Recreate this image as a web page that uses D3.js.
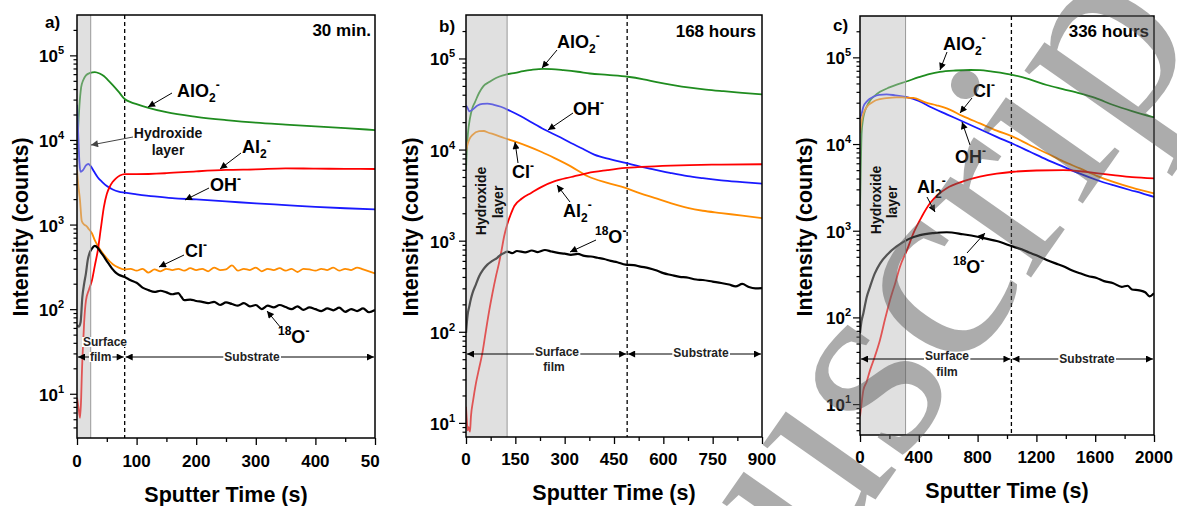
<!DOCTYPE html>
<html>
<head>
<meta charset="utf-8">
<script src="https://cdn.jsdelivr.net/npm/d3@7"></script>
<style>
  body { margin: 0; background: #fff; }
  svg { display: block; font-family: "Liberation Sans", Arial, sans-serif; font-weight: bold; }
</style>
</head>
<body>
<script>
// ---- values: [sputter time (s), intensity (counts)] ----
const a_AlO2 = [[0,6000],[2,14000],[4,25000],[7,42000],[10,50000],[15,58000],[22,62000],[30,63500],[38,61000],[45,57000],[52,51000],[60,44500],[70,37000],[80,30500],[90,28000],[100,26500],[120,24000],[150,21300],[200,18800],[250,17200],[300,16000],[350,15200],[400,14500],[450,13800],[500,13100]];
const a_OH = [[0,26000],[2,12000],[4,5500],[6,4200],[10,4400],[15,5000],[19,5200],[23,4900],[28,4300],[35,3600],[42,3200],[50,2850],[60,2600],[70,2450],[80,2380],[100,2280],[130,2150],[160,2050],[200,1980],[250,1880],[300,1780],[350,1700],[400,1620],[450,1560],[500,1510]];
const a_Cl = [[0,4400],[2,3000],[5,1950],[8,1100],[12,1000],[16,960],[20,880],[25,790],[30,650],[35,560],[42,470],[50,400],[60,340],[70,310],[80,295],[90,300],[100,285],[110,300],[120,270],[130,295],[140,280],[150,300],[160,290],[170,300],[180,285],[190,305],[200,290],[210,300],[220,280],[230,310],[240,290],[250,295],[260,330],[270,285],[280,300],[290,290],[300,310],[310,280],[320,300],[330,290],[340,305],[350,285],[360,300],[370,275],[380,300],[390,295],[400,285],[410,300],[420,290],[430,310],[440,285],[450,300],[460,290],[470,310],[480,295],[490,280],[500,265]];
const a_Al2 = [[0,9],[3,6.5],[5,5.2],[7,9],[8,16],[10,36],[12,70],[15,126],[20,170],[25,218],[30,330],[35,500],[40,900],[45,1600],[50,2300],[55,2800],[60,3200],[65,3500],[72,3800],[80,3950],[100,3950],[150,4050],[200,4250],[250,4420],[300,4500],[350,4620],[400,4580],[450,4560],[500,4540]];
const a_O18 = [[0,65],[3,62],[6,70],[9,140],[12,200],[15,265],[18,380],[21,460],[25,520],[30,560],[35,530],[40,470],[45,420],[50,370],[55,330],[60,295],[65,270],[70,255],[80,240],[90,220],[100,205],[110,180],[120,168],[130,160],[140,165],[150,158],[160,150],[170,155],[175,140],[180,128],[190,130],[200,125],[210,122],[220,118],[230,122],[240,112],[250,120],[260,115],[270,110],[280,118],[290,108],[300,112],[310,100],[320,110],[330,105],[340,112],[350,106],[360,100],[370,108],[380,98],[390,105],[400,100],[410,95],[420,102],[430,97],[440,104],[450,93],[460,100],[470,95],[480,102],[490,92],[500,98]];

const b_AlO2 = [[0,6000],[3,11000],[6,15200],[12,22000],[20,29000],[27,33000],[40,42000],[53,49800],[70,55000],[83,58900],[100,63000],[124,66800],[150,69500],[174,72500],[200,75000],[235,77000],[260,76500],[296,74500],[340,71500],[377,68400],[430,66000],[492,63000],[540,59000],[580,55000],[630,51000],[681,47800],[730,45500],[783,43700],[840,42000],[900,40300]];
const b_OH = [[0,30500],[5,28500],[10,26300],[20,27500],[35,30500],[50,31800],[65,32000],[85,31000],[106,29500],[135,26500],[167,23200],[200,19800],[238,16600],[280,14000],[319,11800],[355,10200],[390,8800],[440,7800],[485,7130],[530,6500],[573,6030],[620,5550],[674,5100],[720,4850],[776,4600],[840,4400],[900,4230]];
const b_Cl = [[0,9600],[5,11500],[10,12900],[20,14500],[40,15900],[55,16000],[65,15500],[90,14500],[116,13400],[150,12200],[187,10900],[230,9400],[268,8100],[320,6500],[370,5100],[430,4300],[485,3790],[530,3300],[573,2950],[620,2600],[674,2290],[720,2130],[776,2010],[840,1880],[900,1770]];
const b_Al2 = [[0,15],[3,10],[5,8.3],[8,9],[12,8],[15,11.7],[22,18],[30,27],[40,40],[50,59],[60,100],[71,174],[80,260],[91,406],[100,560],[108,780],[116,1120],[125,1500],[135,1900],[147,2400],[170,2900],[198,3340],[230,3900],[268,4470],[320,5000],[370,5530],[430,5950],[485,6290],[573,6550],[680,6750],[776,6840],[900,6900]];
const b_O18 = [[0,97],[5,154],[10,190],[15,230],[20,267],[30,330],[40,406],[52,480],[65,546],[80,600],[95,649],[105,700],[116,733],[125,760],[140,730],[155,770],[180,745],[200,780],[218,750],[240,790],[260,760],[280,735],[300,720],[319,700],[340,715],[360,680],[380,670],[400,650],[420,630],[440,600],[460,580],[485,546],[510,540],[530,520],[555,500],[580,470],[600,440],[624,420],[650,400],[670,395],[700,375],[720,370],[750,355],[776,343],[800,330],[820,315],[840,335],[860,310],[880,300],[900,302]];

const c_AlO2 = [[0,1730],[5,5000],[11,13400],[20,19000],[30,23000],[45,26900],[70,32000],[100,36000],[136,40000],[200,45000],[250,48500],[310,52300],[400,59000],[470,64000],[544,68000],[650,70500],[750,71500],[816,71400],[900,68500],[1043,62500],[1150,56000],[1270,48000],[1380,43000],[1496,38400],[1600,34000],[1723,28200],[1850,24000],[2000,20300]];
const c_OH = [[0,19800],[10,22000],[23,26900],[50,31500],[91,35100],[130,37000],[181,37400],[240,36500],[310,35100],[400,31500],[476,26900],[590,22000],[703,18100],[816,14800],[930,12100],[1043,10000],[1156,8140],[1270,6600],[1383,5480],[1496,4550],[1610,3850],[1723,3350],[1836,2950],[1920,2700],[2000,2460]];
const c_Cl = [[0,13400],[10,18000],[20,21500],[34,24700],[60,28500],[80,30000],[113,32200],[180,33800],[249,34600],[300,34400],[363,34000],[450,30000],[520,28000],[590,25800],[700,21000],[816,17300],[930,14300],[1043,12100],[1150,9800],[1270,7830],[1383,6300],[1496,5240],[1610,4300],[1723,3670],[1850,3150],[2000,2700]];
const c_Al2 = [[0,7.2],[10,10],[23,14.5],[45,18],[68,24.5],[100,35],[136,55],[170,95],[204,158],[240,250],[272,385],[320,600],[363,933],[420,1450],[476,2070],[530,2600],[590,3090],[700,3700],[816,4200],[930,4550],[1043,4790],[1200,4950],[1383,5000],[1550,4750],[1723,4380],[1850,4150],[2000,4020]];
const c_O18 = [[0,66],[10,90],[23,112],[45,170],[68,225],[100,320],[136,418],[190,540],[249,658],[330,800],[408,890],[500,940],[590,960],[700,910],[816,840],[930,760],[1043,655],[1100,610],[1150,560],[1200,520],[1270,460],[1330,420],[1383,390],[1440,350],[1496,323],[1550,300],[1610,285],[1660,262],[1723,248],[1780,225],[1820,232],[1850,210],[1900,205],[1940,195],[1970,175],[2000,190]];

const yTicks = [10, 100, 1000, 10000, 100000];
const aTicks = [0, 100, 200, 300, 400, 500];
const bTicks = [0, 150, 300, 450, 600, 750, 900];
const cTicks = [0, 400, 800, 1200, 1600, 2000];
const panelTags = ['a)', 'b)', 'c)'];
const panelTitles = ['30 min.', '168 hours', '336 hours'];
const bandEnd = [23, 125, 310];     // hydroxide layer
const filmEnd = [80, 490, 1030];    // surface film / substrate boundary

const colors = {AlO2: '#1f8c1f', OH: '#1a1aff', Cl: '#ff8c00', Al2: '#ff0000', O18: '#000000'};
const ionText = {
  AlO2: [['AlO'], ['2', 'sub'], ['-', 'sup']],
  OH:   [['OH'], ['-', 'sup']],
  Cl:   [['Cl'], ['-', 'sup']],
  Al2:  [['Al'], ['2', 'sub'], ['-', 'sup']],
  O18:  [['18', 'sup'], ['O'], ['-', 'sup']]
};

const svg = d3.select('body').append('svg')
    .attr('width', 1177)
    .attr('height', 506);

const defs = svg.append('defs');
[['arrBlack', '#000'], ['arrGray', '#444']].forEach(([id, c]) => {
  defs.append('marker')
      .attr('id', id)
      .attr('viewBox', '0 0 10 10')
      .attr('refX', 10).attr('refY', 5)
      .attr('markerUnits', 'userSpaceOnUse')
      .attr('markerWidth', 9).attr('markerHeight', 7)
      .attr('orient', 'auto-start-reverse')
    .append('path')
      .attr('d', 'M0,0L10,5L0,10z')
      .attr('fill', c);
});

const panels = [
  {x0: 77, x1: 375, y0: 15, y1: 438, xMax: 500, yMin: 3, ticks: aTicks, minor: 50, clipR: 380,
   tickPad: 13, tickY: 467, ytitleX: 28, xtitle: [226, 502], tag: [45, 28], title: [371, 36],
   series: {AlO2: a_AlO2, OH: a_OH, Cl: a_Cl, Al2: a_Al2, O18: a_O18},
   labels: [
     ['AlO2', 177, 97, [172, 93, 148, 107]],
     ['Al2', 242, 153, [241, 153, 220, 169]],
     ['OH', 210, 191, [209, 188, 185, 200]],
     ['Cl', 185, 257, [184, 255, 159, 267]],
     ['O18', 278, 343, [281, 328, 267, 311]]
   ],
   hydro: {rot: false, lines: [[168, 138], [168, 155]], arrow: [133, 137, 91, 145]},
   arrowY: 357, surface: [[83, 346, 'start'], [90, 361, 'start']], substrate: [252, 361]},
  {x0: 466, x1: 762, y0: 15, y1: 437, xMax: 900, yMin: 7, ticks: bTicks, minor: 75, clipR: 790,
   tickPad: 11, tickY: 465, ytitleX: 418, xtitle: [614, 500], tag: [439, 32], title: [756, 37],
   series: {AlO2: b_AlO2, OH: b_OH, Cl: b_Cl, Al2: b_Al2, O18: b_O18},
   labels: [
     ['AlO2', 557, 48, [557, 50, 542, 68]],
     ['OH', 573, 115, [573, 113, 548, 130]],
     ['Cl', 512, 178, [518, 163, 515, 142]],
     ['Al2', 563, 217, [570, 202, 557, 185]],
     ['O18', 595, 243, [596, 240, 570, 252]]
   ],
   hydro: {rot: true, lines: [[486, 201], [503, 202]]},
   arrowY: 354, surface: [[557, 356, 'middle'], [554, 371, 'middle']], substrate: [701, 357]},
  {x0: 860, x1: 1154, y0: 16, y1: 435, xMax: 2000, yMin: 4.4, ticks: cTicks, minor: 200, clipR: 1177,
   tickPad: 9, tickY: 463, ytitleX: 812, xtitle: [1007, 498], tag: [833, 31], title: [1149, 37],
   series: {AlO2: c_AlO2, OH: c_OH, Cl: c_Cl, Al2: c_Al2, O18: c_O18},
   labels: [
     ['AlO2', 943, 50, [947, 52, 940, 70]],
     ['Cl', 973, 97, [972, 98, 960, 113]],
     ['OH', 955, 163, [970, 145, 962, 122]],
     ['Al2', 917, 193, [927, 197, 935, 212]],
     ['O18', 953, 273, [967, 253, 985, 233]]
   ],
   hydro: {rot: true, lines: [[881, 200], [897, 202]]},
   arrowY: 359, surface: [[947, 360, 'middle'], [947, 376, 'middle']], substrate: [1087, 363]}
];

function ion(g, name, x, y) {
  const t = g.append('text').attr('x', x).attr('y', y).attr('font-size', 18);
  let shift = 0;
  ionText[name].forEach(([s, kind]) => {
    const target = kind === 'sub' ? 5 : kind === 'sup' ? -8 : 0;
    t.append('tspan')
        .attr('dy', target - shift)
        .attr('font-size', kind ? 12 : 18)
        .text(s);
    shift = target;
  });
}

function boxedText(g, x, y, s, anchor) {
  const t = g.append('text')
      .attr('x', x).attr('y', y)
      .attr('font-size', 12)
      .attr('text-anchor', anchor)
      .attr('fill', '#222')
      .text(s);
  const bb = t.node().getBBox();
  g.insert('rect', () => t.node())
      .attr('x', bb.x - 1).attr('y', bb.y + 2)
      .attr('width', bb.width + 2).attr('height', bb.height - 4)
      .attr('fill', '#fff');
}

panels.forEach((p, i) => {
  const x = d3.scaleLinear().domain([0, p.xMax]).range([p.x0, p.x1]);
  const y = d3.scaleLog().domain([p.yMin, 3e5]).range([p.y1, p.y0]);

  defs.append('clipPath').attr('id', 'plot' + i)
    .append('rect')
      .attr('x', p.x0).attr('y', p.y0)
      .attr('width', p.x1 - p.x0).attr('height', p.y1 - p.y0);
  defs.append('clipPath').attr('id', 'panel' + i)
    .append('rect')
      .attr('x', 0).attr('y', 0)
      .attr('width', p.clipR).attr('height', 506);

  const g = svg.append('g').attr('clip-path', 'url(#panel' + i + ')');
  const plot = g.append('g').attr('clip-path', 'url(#plot' + i + ')');

  // film / substrate boundary
  plot.append('line')
      .attr('x1', x(filmEnd[i])).attr('x2', x(filmEnd[i]))
      .attr('y1', p.y0).attr('y2', p.y1)
      .attr('stroke', '#000')
      .attr('stroke-width', 1.3)
      .attr('stroke-dasharray', '4,3');

  // region arrows
  const ar = g.append('g');
  ar.append('line')
      .attr('x1', p.x0 + 1).attr('x2', x(filmEnd[i]) - 1)
      .attr('y1', p.arrowY).attr('y2', p.arrowY)
      .attr('stroke', '#000').attr('stroke-width', 1)
      .attr('marker-start', 'url(#arrBlack)')
      .attr('marker-end', 'url(#arrBlack)');
  ar.append('line')
      .attr('x1', x(filmEnd[i]) + 1).attr('x2', p.x1 - 1)
      .attr('y1', p.arrowY).attr('y2', p.arrowY)
      .attr('stroke', '#000').attr('stroke-width', 1)
      .attr('marker-start', 'url(#arrBlack)')
      .attr('marker-end', 'url(#arrBlack)');
  boxedText(ar, p.surface[0][0], p.surface[0][1], 'Surface', p.surface[0][2]);
  boxedText(ar, p.surface[1][0], p.surface[1][1], 'film', p.surface[1][2]);
  boxedText(ar, p.substrate[0], p.substrate[1], 'Substrate', 'middle');

  // depth profiles
  const line = d3.line()
      .x(d => x(d[0]))
      .y(d => y(d[1]))
      .curve(d3.curveMonotoneX);
  ['AlO2', 'OH', 'Cl', 'Al2', 'O18'].forEach(k => {
    plot.append('path')
        .datum(p.series[k])
        .attr('d', line)
        .attr('fill', 'none')
        .attr('stroke', colors[k])
        .attr('stroke-width', k === 'O18' ? 2.2 : 1.8)
        .attr('stroke-linejoin', 'round');
  });

  // ion labels
  p.labels.forEach(([k, lx, ly, a]) => {
    ion(g, k, lx, ly);
    g.append('line')
        .attr('x1', a[0]).attr('y1', a[1])
        .attr('x2', a[2]).attr('y2', a[3])
        .attr('stroke', '#000').attr('stroke-width', 1)
        .attr('marker-end', 'url(#arrBlack)');
  });

  // hydroxide layer text
  const h = p.hydro;
  ['Hydroxide', 'layer'].forEach((s, j) => {
    const t = g.append('text')
        .attr('font-size', 14)
        .attr('text-anchor', 'middle')
        .attr('fill', '#111')
        .text(s);
    if (h.rot) t.attr('transform', 'translate(' + h.lines[j][0] + ',' + h.lines[j][1] + ') rotate(-90)');
    else t.attr('x', h.lines[j][0]).attr('y', h.lines[j][1]);
  });
  if (h.arrow) {
    g.append('line')
        .attr('x1', h.arrow[0]).attr('y1', h.arrow[1])
        .attr('x2', h.arrow[2]).attr('y2', h.arrow[3])
        .attr('stroke', '#444').attr('stroke-width', 1)
        .attr('marker-end', 'url(#arrGray)');
  }

  // hydroxide band, translucent over everything below it
  plot.append('rect')
      .attr('x', x(0)).attr('y', p.y0)
      .attr('width', x(bandEnd[i]) - x(0))
      .attr('height', p.y1 - p.y0)
      .attr('fill', '#bbb')
      .attr('fill-opacity', 0.45);
  plot.append('line')
      .attr('x1', x(bandEnd[i])).attr('x2', x(bandEnd[i]))
      .attr('y1', p.y0).attr('y2', p.y1)
      .attr('stroke', '#999').attr('stroke-width', 1);

  // axes
  const xAxis = g.append('g').attr('transform', 'translate(0,' + p.y1 + ')');
  xAxis.call(d3.axisBottom(x).tickValues(d3.range(p.minor, p.xMax, p.minor * 2)).tickSize(4).tickFormat(''));
  xAxis.append('g').call(d3.axisBottom(x).tickValues(p.ticks).tickSize(7).tickFormat(''));
  xAxis.selectAll('.domain').remove();
  xAxis.selectAll('line').attr('stroke', '#000').attr('stroke-width', 1.3);
  g.selectAll('.xt').data(p.ticks).enter().append('text')
      .attr('x', d => x(d)).attr('y', p.tickY)
      .attr('text-anchor', 'middle')
      .attr('font-size', 17)
      .text(d => d);

  const minor = [];
  d3.range(0, 6).forEach(e => d3.range(2, 10).forEach(m => {
    const v = m * Math.pow(10, e);
    if (v > p.yMin && v < 3e5) minor.push(v);
  }));
  const yAxis = g.append('g').attr('transform', 'translate(' + p.x0 + ',0)');
  yAxis.call(d3.axisLeft(y).tickValues(minor).tickSize(3.5).tickFormat(''));
  yAxis.append('g').call(d3.axisLeft(y).tickValues(yTicks).tickSize(7).tickFormat(''));
  yAxis.selectAll('.domain').remove();
  yAxis.selectAll('line').attr('stroke', '#000').attr('stroke-width', 1.2);
  yTicks.forEach(v => {
    const t = g.append('text')
        .attr('x', p.x0 - p.tickPad).attr('y', y(v) + 7)
        .attr('text-anchor', 'end')
        .attr('font-size', 17)
        .text('10');
    t.append('tspan').attr('dy', -8).attr('font-size', 11).text(Math.log10(v));
  });

  g.append('rect')
      .attr('x', p.x0).attr('y', p.y0)
      .attr('width', p.x1 - p.x0).attr('height', p.y1 - p.y0)
      .attr('fill', 'none')
      .attr('stroke', '#000')
      .attr('stroke-width', 1.5);

  // titles
  g.append('text')
      .attr('transform', 'translate(' + p.ytitleX + ',227) rotate(-90)')
      .attr('text-anchor', 'middle')
      .attr('font-size', 21.5)
      .text('Intensity (counts)');
  g.append('text')
      .attr('x', p.xtitle[0]).attr('y', p.xtitle[1])
      .attr('text-anchor', 'middle')
      .attr('font-size', 21.5)
      .text('Sputter Time (s)');
  g.append('text')
      .attr('x', p.tag[0]).attr('y', p.tag[1])
      .attr('font-size', 17)
      .text(panelTags[i]);
  g.append('text')
      .attr('x', p.title[0]).attr('y', p.title[1])
      .attr('text-anchor', 'end')
      .attr('font-size', 17)
      .text(panelTitles[i]);
});

// manuscript watermark, its "c" centred where the reference shows it
const wm = svg.append('text')
    .attr('font-family', '"Liberation Serif", "Times New Roman", serif')
    .attr('font-weight', 'normal')
    .attr('font-size', 270)
    .attr('fill', '#5a5a5a')
    .attr('fill-opacity', 0.5)
    .text('Manuscript');
const ce = wm.node().getExtentOfChar(5);
wm.attr('x', -(ce.x + ce.width / 2))
  .attr('y', -(ce.y + ce.height * 0.62))
  .attr('transform', 'translate(948,299) rotate(-55)');
</script>
</body>
</html>
